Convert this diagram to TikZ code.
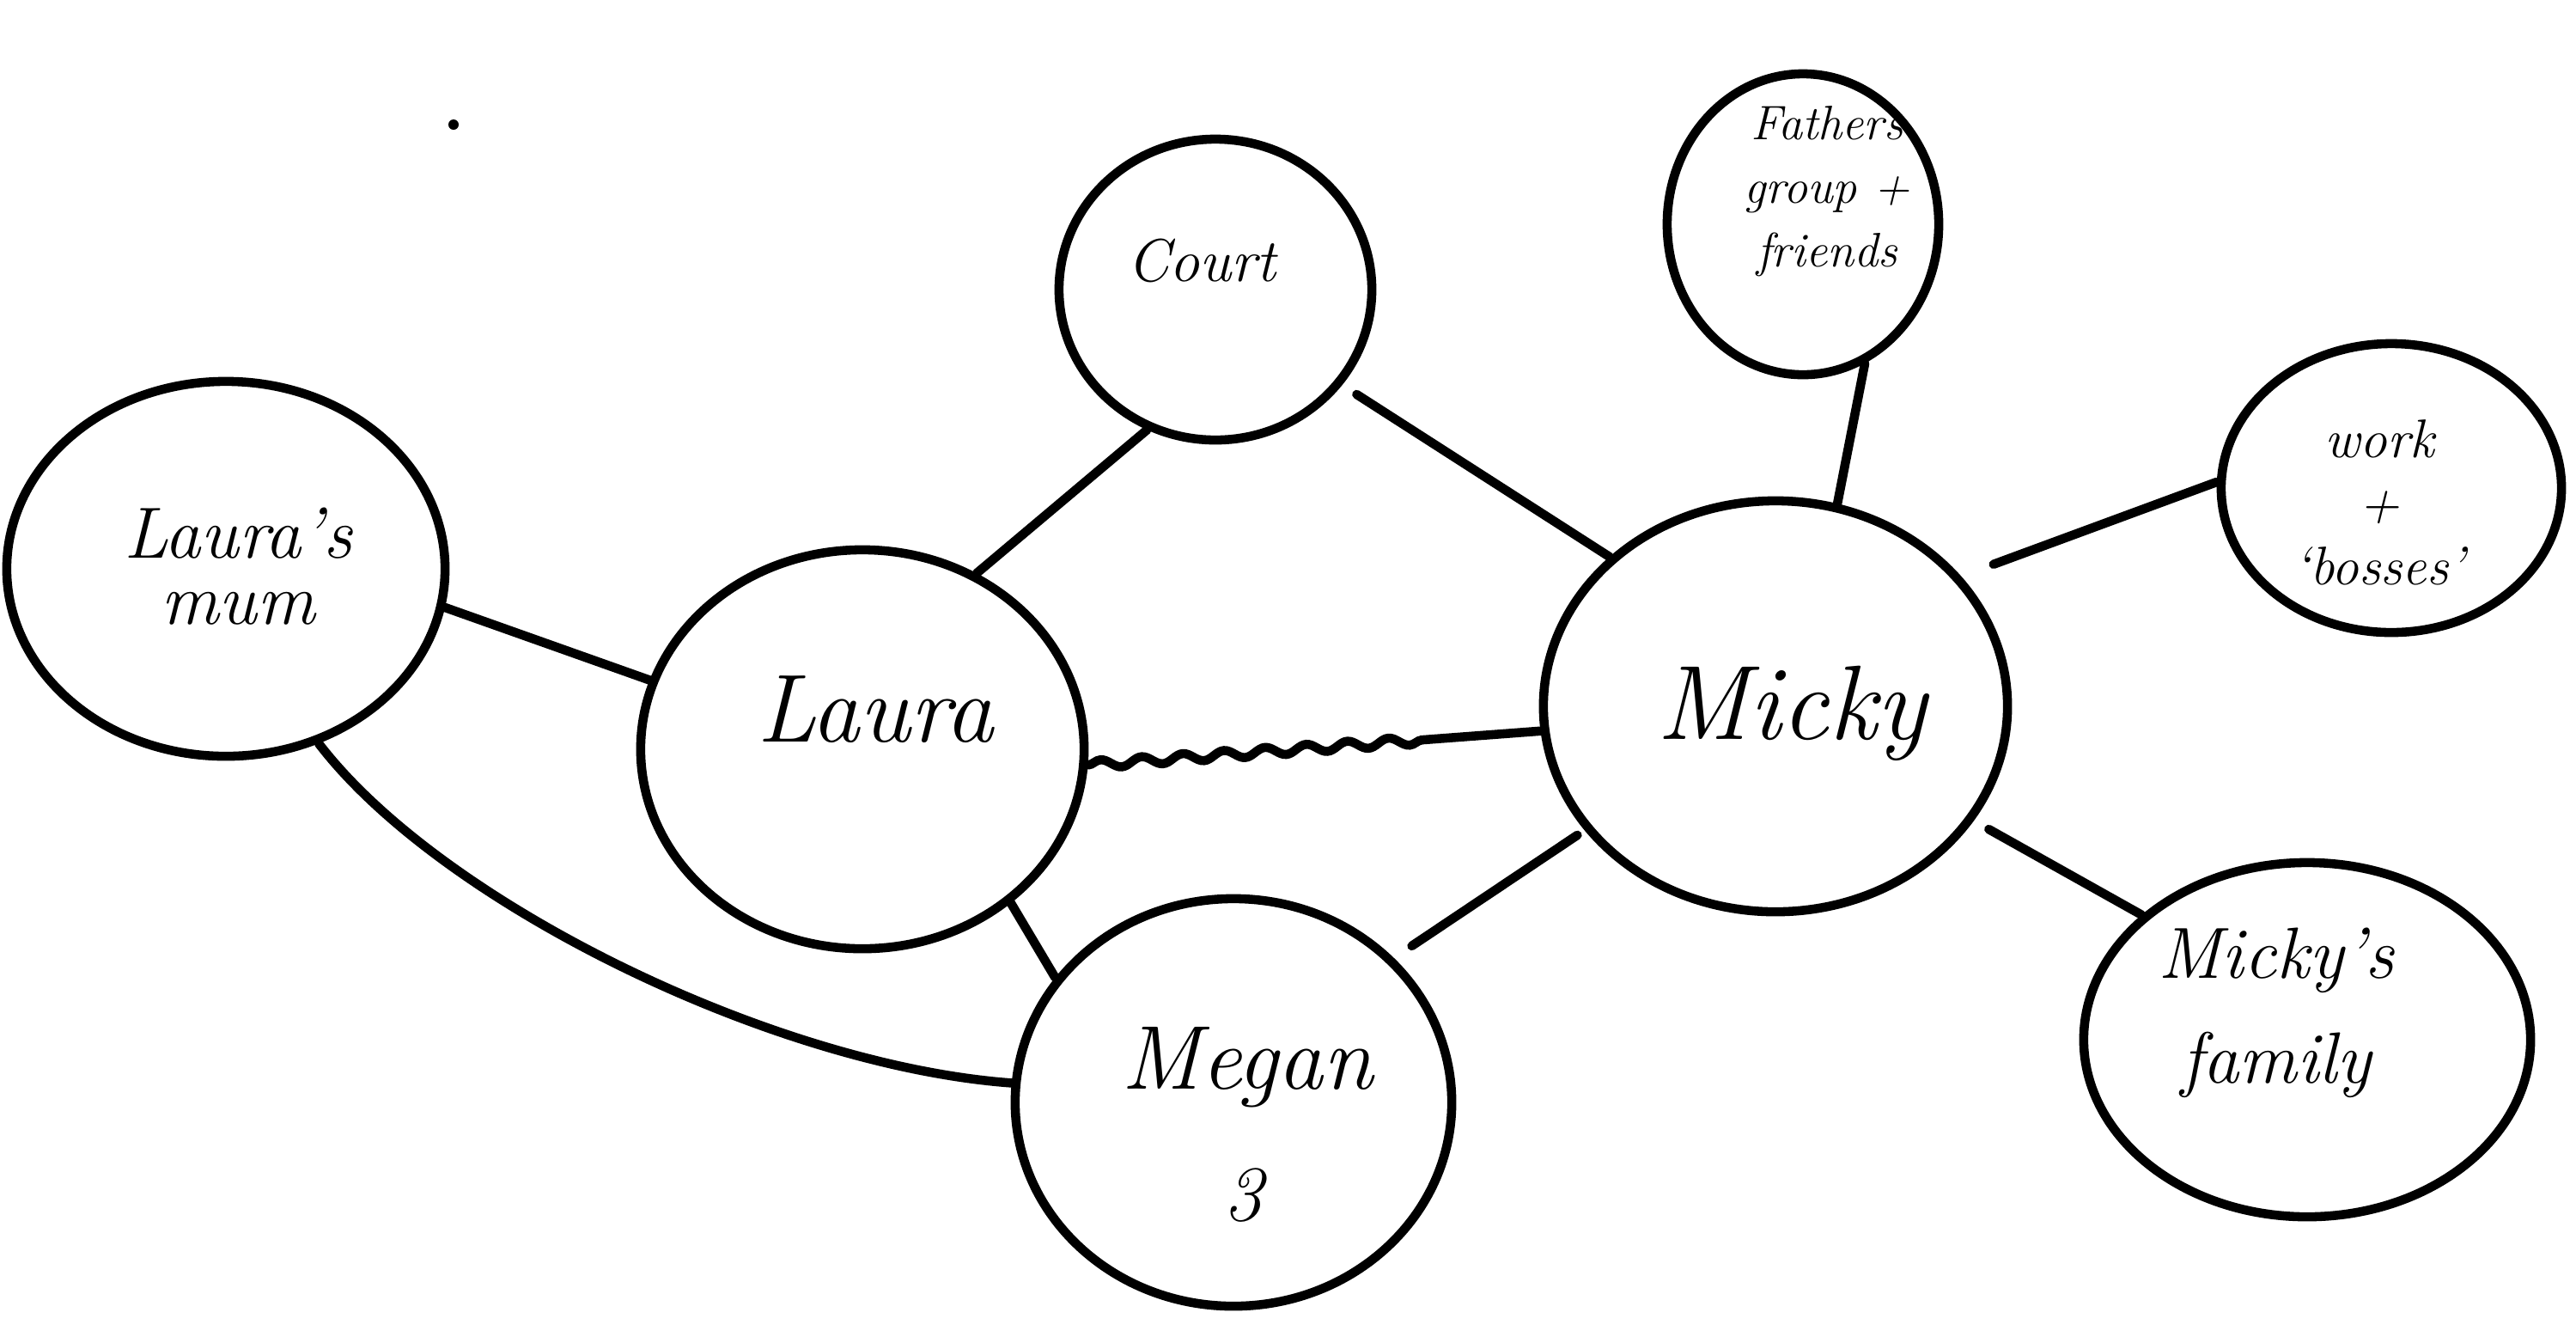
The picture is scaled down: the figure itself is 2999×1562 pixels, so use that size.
\documentclass[tikz,border=0pt]{standalone}
\usetikzlibrary{shapes.geometric,decorations.pathmorphing}
\begin{document}
\begin{tikzpicture}[x=0.01cm,y=-0.01cm,
  ring/.style={draw, ellipse, line width=3pt, inner sep=0pt},
  link/.style={line width=3pt, line cap=round},
  hand/.style={font=\itshape\fontsize{#1}{#1}\selectfont, inner sep=0pt, anchor=base},
  block/.style 2 args={font=\itshape\fontsize{#1}{#2}\selectfont, inner sep=0pt, align=center},
]
\useasboundingbox[fill=white] (0,0) rectangle (2999,1562);

% the people and groups of the ecomap
\node[ring, minimum width=5.1cm,  minimum height=4.36cm] (mum)     at (263,662)   {};
\node[ring, minimum width=5.16cm, minimum height=4.64cm] (laura)   at (1004,872)  {};
\node[ring, minimum width=3.64cm, minimum height=3.5cm]  (court)   at (1415,337)  {};
\node[ring, minimum width=3.16cm, minimum height=3.5cm]  (fathers) at (2099,261)  {};
\node[ring, minimum width=3.96cm, minimum height=3.36cm] (work)    at (2784,568)  {};
\node[ring, minimum width=5.4cm,  minimum height=4.78cm] (micky)   at (2067,822)  {};
\node[ring, minimum width=5.2cm,  minimum height=4.12cm] (family)  at (2686,1210) {};
\node[ring, minimum width=5.08cm, minimum height=4.74cm] (megan)   at (1436,1283) {};

% handwritten labels
\node[block={24}{22}]   (mumT)    at (277,659)   {Laura's\\mum};
\node[hand=32]          (lauraT)  at (1019,863)  {Laura};
\node[hand=35]          (mickyT)  at (2086,860)  {Micky};
\node[hand=20]          (courtT)  at (1399,327)  {Court};
\node[block={16}{21}]   (fathT)   at (2127,223)  {Fathers\\group +\\friends};
\node[block={18}{21}]   (workT)   at (2770,585)  {work\\+\\`bosses'};
\node[block={24}{34.6}] (famT)    at (2650,1179) {Micky's\\family};
\node[hand=30]          (meganT)  at (1452,1267) {Megan};
\node[hand=26]          (meganN)  at (1447,1420) {3};

% relationships
\draw[link] (mum.-10) -- (laura.162);
\draw[link] (mum.-62) .. controls (513,1051) and (900,1240) .. (megan.175);
\draw[link] (laura.57) -- (court.-116);
\draw[link] (laura.-46) -- (megan.145);
\draw[link, decorate, decoration={snake, amplitude=0.5mm, segment length=4.8mm, post length=1.35cm}]
  (laura.-4) -- (micky.186.5);
\draw[link, shorten <=0.2cm] (court.-37) -- (micky.138.5);
\draw[link, shorten <=0.1cm, shorten >=0.25cm] (micky.213) -- (megan.42);
\draw[link] (fathers.-66.5) -- (micky.73.5);
\draw[link, shorten <=0.4cm] (micky.35) -- (work.178);
\draw[link, shorten <=0.2cm] (micky.-30) -- (family.143);

% stray pen mark
\fill (528,145) circle[radius=0.06cm];
\end{tikzpicture}
\end{document}
